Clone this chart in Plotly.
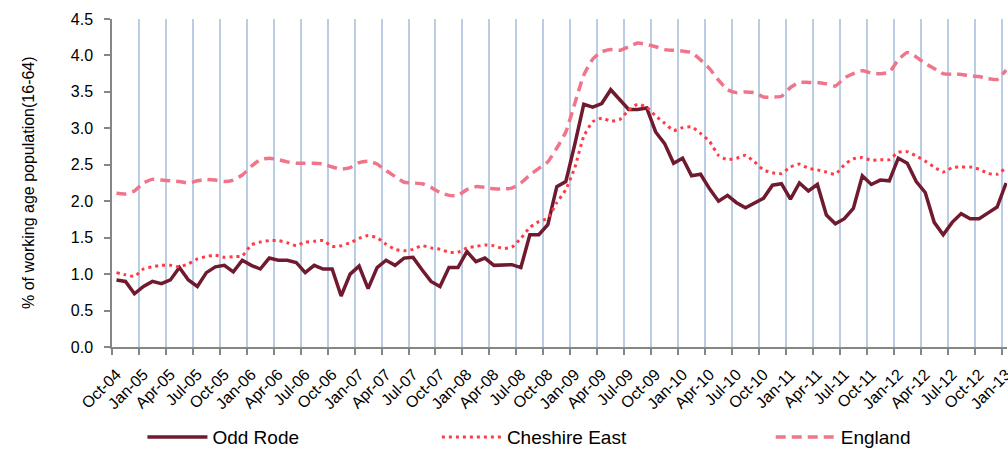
import plotly.graph_objects as go
import pandas as pd

# monthly categories Oct-04 .. Jan-13
months = pd.date_range("2004-10-01", periods=100, freq="MS").strftime("%b-%y").tolist()

odd_rode = [0.92, 0.90, 0.73, 0.83, 0.90, 0.87, 0.92, 1.09, 0.92, 0.83,
            1.02, 1.10, 1.12, 1.03, 1.19, 1.12, 1.07, 1.22, 1.19, 1.19,
            1.16, 1.02, 1.12, 1.07, 1.07, 0.70, 1.00, 1.11, 0.80, 1.09,
            1.19, 1.12, 1.22, 1.23, 1.06, 0.90, 0.83, 1.09, 1.09, 1.31,
            1.17, 1.22, 1.12, 1.13, 1.13, 1.09, 1.54, 1.54, 1.68, 2.20,
            2.27, 2.78, 3.33, 3.29, 3.34, 3.53, 3.39, 3.26, 3.26, 3.28,
            2.95, 2.79, 2.52, 2.59, 2.35, 2.37, 2.17, 2.00, 2.08, 1.98,
            1.91, 1.97, 2.04, 2.22, 2.24, 2.03, 2.25, 2.14, 2.23, 1.81,
            1.69, 1.76, 1.90, 2.35, 2.23, 2.29, 2.28, 2.59, 2.52, 2.27,
            2.12, 1.71, 1.54, 1.71, 1.83, 1.76, 1.76, 1.84, 1.92, 2.25]

cheshire_east = [1.02, 0.99, 0.97, 1.07, 1.10, 1.12, 1.12, 1.10, 1.14, 1.21,
                 1.24, 1.26, 1.23, 1.24, 1.25, 1.40, 1.44, 1.46, 1.46, 1.43,
                 1.39, 1.44, 1.45, 1.46, 1.38, 1.39, 1.43, 1.49, 1.53, 1.50,
                 1.41, 1.34, 1.32, 1.34, 1.39, 1.36, 1.34, 1.30, 1.30, 1.36,
                 1.38, 1.40, 1.39, 1.35, 1.37, 1.49, 1.64, 1.72, 1.77, 1.98,
                 2.16, 2.46, 2.89, 3.09, 3.14, 3.10, 3.12, 3.25, 3.33, 3.29,
                 3.17, 3.07, 2.97, 3.01, 3.02, 2.93, 2.82, 2.63, 2.57, 2.59,
                 2.63, 2.54, 2.43, 2.39, 2.38, 2.47, 2.51, 2.45, 2.43, 2.40,
                 2.37, 2.50, 2.58, 2.60, 2.56, 2.57, 2.57, 2.67, 2.68, 2.62,
                 2.55, 2.47, 2.40, 2.46, 2.47, 2.47, 2.44, 2.38, 2.37, 2.46]

england = [2.11, 2.10, 2.14, 2.25, 2.30, 2.29, 2.28, 2.27, 2.25, 2.28,
           2.30, 2.29, 2.27, 2.29, 2.36, 2.48, 2.57, 2.59, 2.57, 2.54,
           2.52, 2.52, 2.52, 2.51, 2.47, 2.44, 2.46, 2.53, 2.55, 2.51,
           2.42, 2.34, 2.26, 2.25, 2.24, 2.19, 2.12, 2.08, 2.08, 2.16,
           2.20, 2.19, 2.17, 2.17, 2.18, 2.25, 2.36, 2.45, 2.54, 2.73,
           2.95, 3.34, 3.73, 3.95, 4.05, 4.08, 4.07, 4.12, 4.17, 4.15,
           4.12, 4.08, 4.07, 4.06, 4.04, 3.94, 3.82, 3.66, 3.53, 3.49,
           3.50, 3.49, 3.43, 3.43, 3.44, 3.56, 3.63, 3.63, 3.63, 3.61,
           3.58, 3.69, 3.75, 3.79, 3.76, 3.75, 3.77, 3.94, 4.04, 3.98,
           3.89, 3.82, 3.75, 3.74, 3.74, 3.72, 3.71, 3.68, 3.67, 3.80]

tick_idx = list(range(0, len(months), 3))
tick_labels = [months[i] for i in tick_idx]

x = list(range(len(months)))
FONT = "Liberation Sans, Arial, sans-serif"

fig = go.Figure()
fig.add_trace(go.Scatter(x=x, y=odd_rode, name="Odd Rode", mode="lines",
                         line=dict(color="#701A2F", width=3.5), legend="legend"))
fig.add_trace(go.Scatter(x=x, y=cheshire_east, name="Cheshire East", mode="lines",
                         line=dict(color="#FF3B47", width=3, dash="3px,4px",
                                   shape="spline", smoothing=0.5), legend="legend2"))
fig.add_trace(go.Scatter(x=x, y=england, name="England", mode="lines",
                         line=dict(color="#F0758A", width=3.5, dash="10px,6px",
                                   shape="spline", smoothing=0.5), legend="legend3"))

leg = dict(orientation="h", yanchor="middle", y=-0.275, xanchor="left",
           font=dict(family=FONT, size=19, color="#000000"),
           bgcolor="rgba(0,0,0,0)", itemwidth=60)
fig.update_layout(
    width=1008, height=450,
    margin=dict(l=112, r=1, t=19, b=103, autoexpand=False),
    paper_bgcolor="white", plot_bgcolor="white",
    font=dict(family=FONT, size=16, color="#000000"),
    showlegend=True,
    legend=dict(leg, x=0.034),
    legend2=dict(leg, x=0.363),
    legend3=dict(leg, x=0.736),
)

fig.update_xaxes(
    range=[-0.5, 99.1], automargin=False,
    tickmode="array", tickvals=tick_idx, ticktext=tick_labels,
    tickangle=-45, ticks="", showgrid=False, zeroline=False,
    showline=True, linecolor="#868686", linewidth=1.5,
    tickfont=dict(size=16), ticklabelstandoff=10, ticklabeloverflow="allow",
    minor=dict(tickmode="linear", tick0=-0.5, dtick=3, showgrid=True,
               gridcolor="#B9CDE5", gridwidth=1.5, ticks="outside",
               ticklen=6, tickcolor="#868686", tickwidth=1.5),
)
fig.update_yaxes(
    range=[0, 4.5], dtick=0.5, tickformat=".1f", automargin=False,
    ticks="outside", ticklen=6, tickcolor="#868686", tickwidth=1.5,
    showline=True, linecolor="#868686", linewidth=1.5,
    showgrid=False, zeroline=False, tickfont=dict(size=16), ticklabelstandoff=8,
)
fig.add_annotation(text="% of working age population(16-64)", textangle=-90,
                   xref="paper", yref="paper", x=(28 - 112) / 895, y=0.5,
                   xanchor="center", yanchor="middle", showarrow=False,
                   font=dict(size=16))

fig.write_html("out.html", config={"displayModeBar": False},
               post_script="document.body.style.margin='0';")
